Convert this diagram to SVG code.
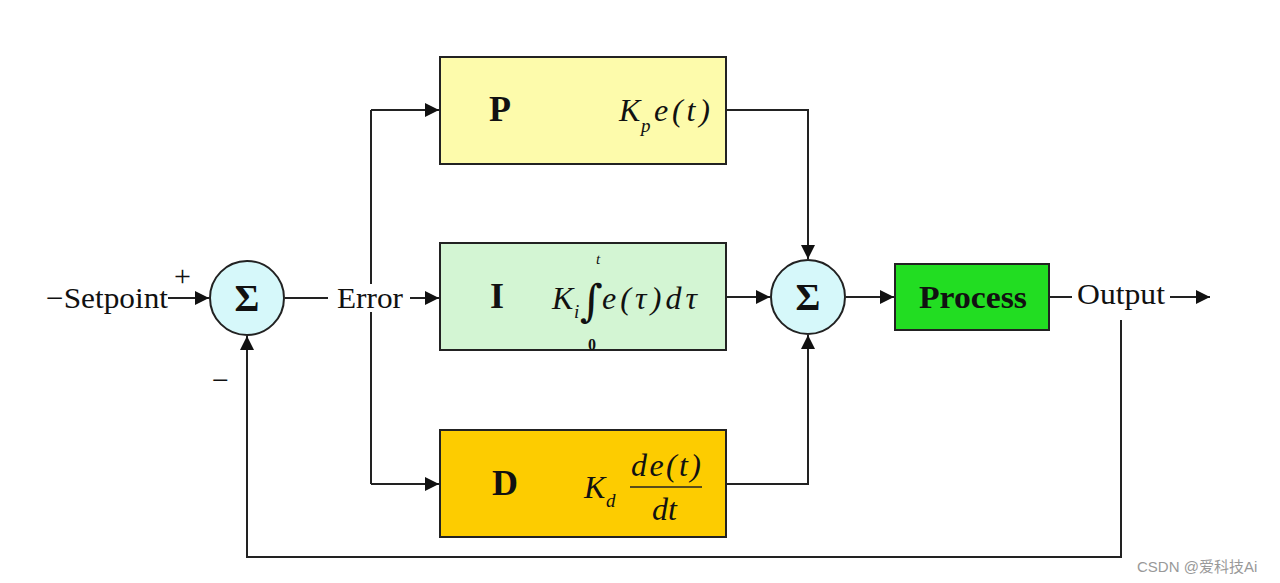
<svg xmlns="http://www.w3.org/2000/svg" width="1280" height="583" viewBox="0 0 1280 583">
<style>
text{font-family:"Liberation Serif","Times New Roman",serif;fill:#111}
.box{stroke:#222;stroke-width:2}
.ln{fill:none;stroke:#222;stroke-width:2}
.lbl{font-size:30px}
.big{font-size:36px;font-weight:bold}
.m{font-size:32px;font-style:italic}
.sub{font-size:19px;font-style:italic}
.sum{fill:#d6f8fa;stroke:#222;stroke-width:2}
.sig{font-size:38px;font-weight:bold}
</style>
<defs>
<marker id="ah" viewBox="0 0 10 10" refX="10" refY="5" markerWidth="18" markerHeight="14" markerUnits="userSpaceOnUse" orient="auto">
<path d="M0,0 L10,5 L0,10 z" fill="#111"/>
</marker>
</defs>
<rect width="1280" height="583" fill="#fff"/>
<g id="connectors">
<path class="ln" d="M168,298 H209" marker-end="url(#ah)"/>
<path class="ln" d="M285,298 H328"/>
<path class="ln" d="M371,110 V284"/>
<path class="ln" d="M371,312 V484"/>
<path class="ln" d="M371,110 H439" marker-end="url(#ah)"/>
<path class="ln" d="M371,484 H439" marker-end="url(#ah)"/>
<path class="ln" d="M410,298 H439" marker-end="url(#ah)"/>
<path class="ln" d="M727,110 H808 V259" marker-end="url(#ah)"/>
<path class="ln" d="M727,297 H770" marker-end="url(#ah)"/>
<path class="ln" d="M727,484 H808 V335" marker-end="url(#ah)"/>
<path class="ln" d="M846,297 H894" marker-end="url(#ah)"/>
<path class="ln" d="M1050,297 H1072"/>
<path class="ln" d="M1170,297 H1210" marker-end="url(#ah)"/>
<path class="ln" d="M1121,320 V557 H247 V336" marker-end="url(#ah)"/>
</g>
<g id="setpoint">
<text class="lbl" x="46" y="308" textLength="122" lengthAdjust="spacingAndGlyphs">−Setpoint</text>
<text class="lbl" x="174" y="286">+</text>
<text class="lbl" x="212" y="390">−</text>
</g>
<g id="sum1">
<circle class="sum" cx="247" cy="298" r="37"/>
<text class="sig" x="247" y="311" text-anchor="middle">Σ</text>
</g>
<g id="error">
<text class="lbl" x="337" y="308" textLength="66" lengthAdjust="spacingAndGlyphs">Error</text>
</g>
<g id="P">
<rect class="box" x="440" y="57" width="286" height="107" fill="#fdfbab"/>
<text class="big" x="489" y="121">P</text>
<text class="m" x="619" y="121">K</text><text class="sub" x="641" y="132">p</text><text class="m" x="654" y="121" textLength="56" lengthAdjust="spacing">e(t)</text>
</g>
<g id="I">
<rect class="box" x="440" y="243" width="286" height="107" fill="#d3f5d3"/>
<text class="big" x="490" y="308">I</text>
<text class="m" x="552" y="309">K</text><text class="sub" x="574" y="318">i</text>
<text style="font-size:44px;font-family:'DejaVu Serif',serif" x="580" y="316">∫</text>
<text class="sub" x="596" y="264" style="font-size:15px">t</text>
<text x="588" y="350" style="font-size:16px;font-weight:bold">0</text>
<text class="m" x="602" y="309" textLength="95" lengthAdjust="spacing">e(τ)dτ</text>
</g>
<g id="D">
<rect class="box" x="440" y="430" width="286" height="107" fill="#fdcc00"/>
<text class="big" x="492" y="495">D</text>
<text class="m" x="584" y="498">K</text><text class="sub" x="606" y="507">d</text>
<text class="m" x="631" y="476" textLength="70" lengthAdjust="spacing">de(t)</text>
<line x1="630" y1="487" x2="702" y2="487" stroke="#222" stroke-width="1.5"/>
<text class="m" x="652" y="520">dt</text>
</g>
<g id="sum2">
<circle class="sum" cx="808" cy="297" r="37"/>
<text class="sig" x="808" y="310" text-anchor="middle">Σ</text>
</g>
<g id="process">
<rect class="box" x="895" y="264" width="154" height="66" fill="#22dd22"/>
<text x="919" y="308" textLength="108" lengthAdjust="spacingAndGlyphs" style="font-size:31px;font-weight:bold">Process</text>
</g>
<g id="output">
<text class="lbl" x="1077" y="304" textLength="88" lengthAdjust="spacingAndGlyphs">Output</text>
</g>
<text x="1137" y="572" style="font-family:'Liberation Sans','Noto Sans CJK SC',sans-serif;font-size:15px;fill:#999">CSDN @爱科技Ai</text>
</svg>
